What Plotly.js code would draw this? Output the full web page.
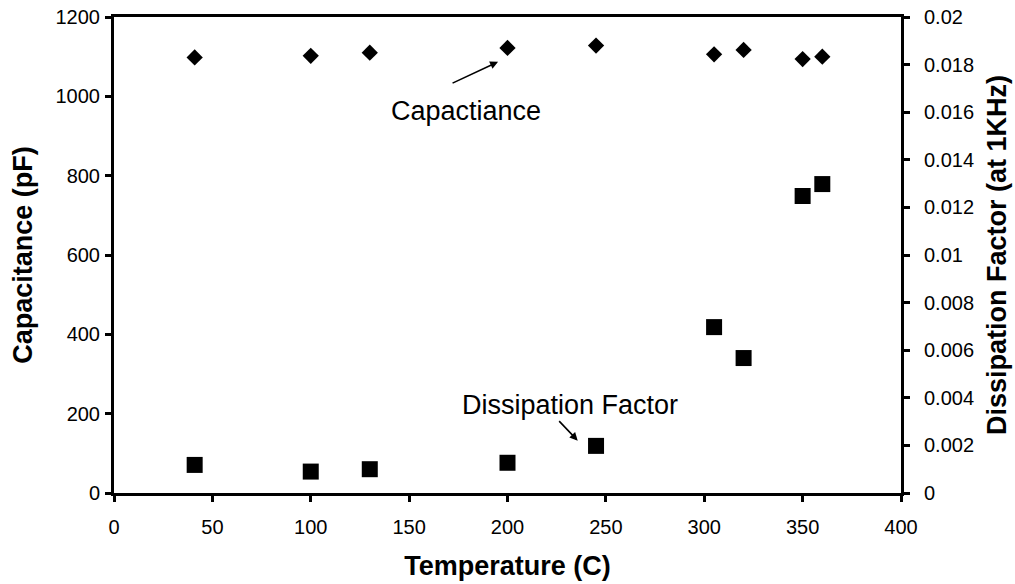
<!DOCTYPE html>
<html>
<head>
<meta charset="utf-8">
<script src="https://cdn.plot.ly/plotly-3.0.1.min.js"></script>
<style>html,body{margin:0;padding:0;background:#fff;}#chart{width:1015px;height:584px;}</style>
</head>
<body>
<div id="chart"></div>
<script>
// Data
const temperature = [41, 100, 130, 200, 245, 305, 320, 350, 360];
const capacitance = [1098, 1102, 1110, 1122, 1128, 1106, 1117, 1094, 1100];
const dissipation = [0.00118, 0.0009, 0.001, 0.00127, 0.00198, 0.00697, 0.00567, 0.01248, 0.01298];
const dfTickVals = [0, 0.002, 0.004, 0.006, 0.008, 0.01, 0.012, 0.014, 0.016, 0.018, 0.02];
const dfTickText = ['0', '0.002', '0.004', '0.006', '0.008', '0.01', '0.012', '0.014', '0.016', '0.018', '0.02'];

const FONT = 'Liberation Sans, Arial, sans-serif';

const traces = [
  {
    x: temperature, y: capacitance, type: 'scatter', mode: 'markers', name: 'Capacitance',
    marker: {symbol: 'diamond', size: 12.5, color: '#000', line: {width: 0}},
    yaxis: 'y'
  },
  {
    x: temperature, y: dissipation, type: 'scatter', mode: 'markers', name: 'Dissipation Factor',
    marker: {symbol: 'square', size: 16, color: '#000', line: {width: 0}},
    yaxis: 'y2'
  }
];

const titleFont = {family: FONT, size: 27, color: '#000', weight: 'bold'};
const tickFont = {family: FONT, size: 20, color: '#000'};

const layout = {
  width: 1015, height: 584,
  margin: {l: 114, r: 114, t: 17, b: 91},
  paper_bgcolor: '#fff', plot_bgcolor: '#fff',
  showlegend: false,
  font: {family: FONT, color: '#000', size: 20},
  xaxis: {
    range: [0, 400], dtick: 50, tick0: 0,
    showgrid: false, zeroline: false,
    showline: true, linewidth: 3, linecolor: '#000', mirror: true,
    ticks: 'outside', ticklen: 6, tickwidth: 3, tickcolor: '#000',
    ticklabelstandoff: 8,
    tickfont: tickFont,
    title: {text: '<b>Temperature (C)</b>', font: titleFont, standoff: 20},
    automargin: false
  },
  yaxis: {
    range: [0, 1200], dtick: 200, tick0: 0,
    showgrid: false, zeroline: false,
    showline: true, linewidth: 3, linecolor: '#000',
    ticks: 'outside', ticklen: 6, tickwidth: 3, tickcolor: '#000',
    ticklabelstandoff: 1,
    tickfont: tickFont,
    title: {text: '<b>Capacitance (pF)</b>', font: titleFont, standoff: 16},
    automargin: false
  },
  yaxis2: {
    overlaying: 'y', side: 'right', anchor: 'x',
    range: [0, 0.02], tickvals: dfTickVals, ticktext: dfTickText,
    showgrid: false, zeroline: false,
    showline: true, linewidth: 3, linecolor: '#000',
    ticks: 'outside', ticklen: 6, tickwidth: 3, tickcolor: '#000',
    ticklabelstandoff: 10,
    tickfont: tickFont,
    title: {text: '<b>Dissipation Factor (at 1KHz)</b>', font: titleFont, standoff: 15},
    automargin: false
  },
  annotations: [
    {x: 179, y: 962, xref: 'x', yref: 'y', text: 'Capactiance', showarrow: false,
     font: {family: FONT, size: 27, color: '#000'}},
    {x: 195.2, y: 1087, xref: 'x', yref: 'y', text: '', showarrow: true,
     ax: -47, ay: 22, arrowhead: 2, arrowsize: 1, arrowwidth: 1.6, arrowcolor: '#000'},
    {x: 232, y: 222, xref: 'x', yref: 'y', text: 'Dissipation Factor', showarrow: false,
     font: {family: FONT, size: 27, color: '#000'}},
    {x: 235.7, y: 132, xref: 'x', yref: 'y', text: '', showarrow: true,
     ax: -20, ay: -21, arrowhead: 2, arrowsize: 1, arrowwidth: 1.6, arrowcolor: '#000'}
  ]
};

Plotly.newPlot('chart', traces, layout, {displayModeBar: false, staticPlot: true});
</script>
</body>
</html>
